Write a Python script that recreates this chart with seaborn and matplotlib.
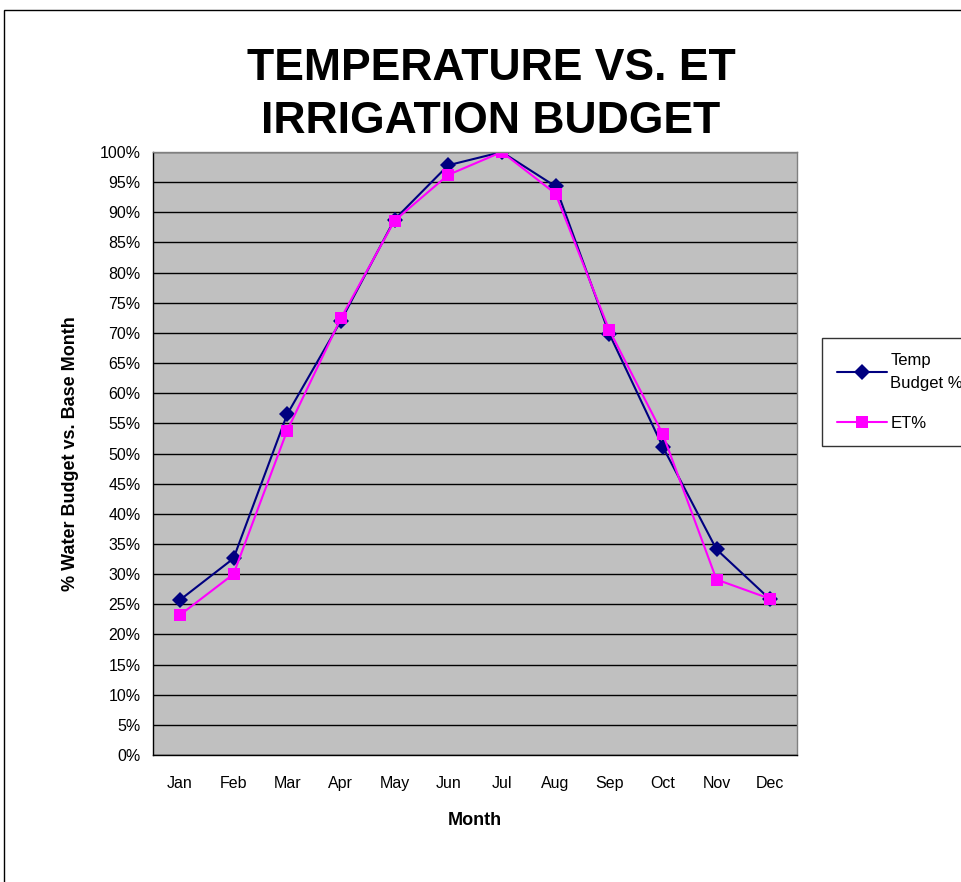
import pandas as pd
import matplotlib.pyplot as plt
import seaborn as sns
from matplotlib.patches import Rectangle
from matplotlib.ticker import FixedLocator, PercentFormatter

months = ["Jan", "Feb", "Mar", "Apr", "May", "Jun",
          "Jul", "Aug", "Sep", "Oct", "Nov", "Dec"]
temp_budget = [25.7, 32.6, 56.5, 72.0, 88.8, 97.8, 100.0, 94.3, 69.9, 51.1, 34.1, 25.8]
et_pct = [23.2, 30.0, 53.8, 72.4, 88.6, 96.2, 100.0, 93.1, 70.5, 53.2, 29.1, 25.9]
series_names = ["Temp\nBudget %", "ET%"]

df = pd.concat([
    pd.DataFrame({"Month": months, "Value": temp_budget, "Series": series_names[0]}),
    pd.DataFrame({"Month": months, "Value": et_pct, "Series": series_names[1]}),
])

sns.set_style("white")
plt.rcParams["font.family"] = ["Liberation Sans", "DejaVu Sans"]
plt.rcParams["text.color"] = "black"
plt.rcParams["axes.labelcolor"] = "black"
plt.rcParams["xtick.color"] = "black"
plt.rcParams["ytick.color"] = "black"

W, H = 961, 882
fig = plt.figure(figsize=(W / 100, H / 100), dpi=100)
ax = fig.add_axes([153 / W, 1 - 755 / H, (797 - 153) / W, (755 - 152) / H])
ax.set_facecolor("#C0C0C0")

sns.lineplot(data=df, x="Month", y="Value", hue="Series", style="Series",
             palette=["#000080", "#FF00FF"], markers=["D", "s"], dashes=False,
             markersize=8, markeredgewidth=0, linewidth=1.5, sort=False, ax=ax)

ax.set_xlim(-0.5, 11.5)
ax.set_ylim(0, 100)
ax.set_yticks(range(0, 101, 5))
ax.yaxis.set_major_formatter(PercentFormatter(decimals=0))
ax.grid(axis="y", color="black", linewidth=1)
ax.set_axisbelow(True)

ax.set_xticks(range(len(months)))
ax.set_xticklabels(months)
ax.xaxis.set_minor_locator(FixedLocator([i - 0.5 for i in range(13)]))
ax.tick_params(axis="x", which="major", length=0, pad=15, labelsize=11.5)
ax.tick_params(axis="x", which="minor", length=6, width=1, color="black", direction="out")
ax.tick_params(axis="y", length=6, width=1, color="black", direction="out", labelsize=11.5, pad=3)

for s in ["left", "bottom"]:
    ax.spines[s].set_color("black")
    ax.spines[s].set_linewidth(1)
for s in ["top", "right"]:
    ax.spines[s].set_color("#808080")
    ax.spines[s].set_linewidth(1)

ax.set_xlabel("Month", fontsize=13, fontweight="bold", labelpad=15)
ax.set_ylabel("% Water Budget vs. Base Month", fontsize=13, fontweight="bold", labelpad=15)

fig.text(491 / W, 1 - 95 / H, "TEMPERATURE VS. ET\nIRRIGATION BUDGET",
         ha="center", va="center", fontsize=32, fontweight="bold", linespacing=1.38)

leg = ax.legend(title=None, loc="upper left", bbox_to_anchor=(822 / W, 1 - 338 / H),
                bbox_transform=fig.transFigure, frameon=True, fancybox=False,
                fontsize=12, handlelength=3.0, handletextpad=0.2,
                borderpad=0.9, labelspacing=1.5, borderaxespad=0)
leg.get_frame().set_edgecolor("black")
leg.get_frame().set_linewidth(1)
for t in leg.get_texts():
    t.set_linespacing(1.65)

fig.patches.append(Rectangle((4 / W, -0.1), 1.2, 1.1 - 10 / H, transform=fig.transFigure,
                             fill=False, edgecolor="black", linewidth=1, clip_on=False))

fig.savefig("out.png", dpi=100)
